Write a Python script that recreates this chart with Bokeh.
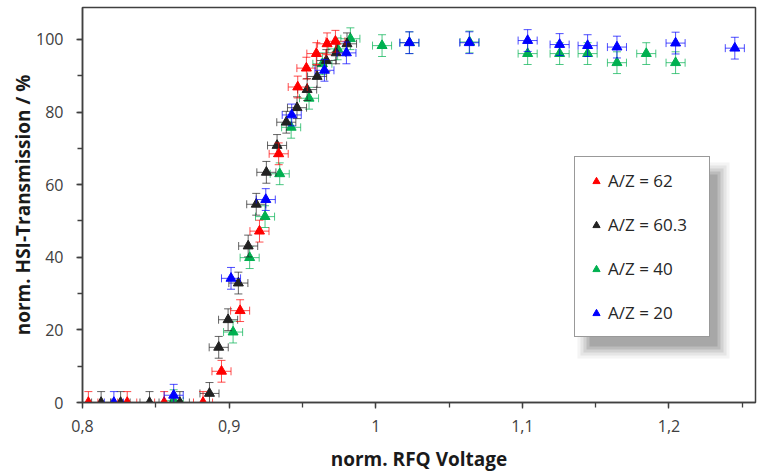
import numpy as np
from bokeh.plotting import figure
from bokeh.models import (Range1d, SingleIntervalTicker, CustomJSTickFormatter,
                          Legend, LegendItem, BoxAnnotation)
from bokeh.embed import file_html
from bokeh.resources import INLINE

# ---------------- data ----------------
labels = ["A/Z = 62", "A/Z = 60.3", "A/Z = 40", "A/Z = 20"]
colors = ["#ff0000", "#222222", "#00b050", "#0000ff"]

x_red = [0.804, 0.8305, 0.8557, 0.8822, 0.8948, 0.9075, 0.9207, 0.9338, 0.9468,
         0.9527, 0.9595, 0.9668, 0.9725]
y_red = [0, 0, 0, 0, 8.6, 25.3, 47.2, 68.5, 86.9, 92.1, 96.1, 98.8, 99.5]

x_black = [0.8127, 0.826, 0.8457, 0.8664, 0.8866, 0.8929, 0.8993, 0.9063, 0.913,
           0.9185, 0.9254, 0.9327, 0.939, 0.9463, 0.9532, 0.96, 0.9663, 0.973, 0.9804]
y_black = [0, 0, 0, 0, 2.5, 15.2, 22.8, 32.9, 43.1, 54.6, 63.4, 70.8, 77.2, 81.2,
           86.2, 89.8, 94.2, 96.3, 98.8]

x_green = [0.8622, 0.9027, 0.914, 0.9245, 0.9345, 0.9423, 0.9545, 0.9636, 0.974,
           0.9827, 1.0043, 1.023, 1.064, 1.1036, 1.1254, 1.1445, 1.1645, 1.1845, 1.2045]
y_green = [0.5, 19.4, 39.9, 51.2, 63.0, 75.8, 83.8, 93.3, 97.4, 100.2, 98.3, 99.1,
           99.3, 96.1, 96.1, 96.1, 93.6, 96.1, 93.6]

x_blue = [0.8214, 0.8622, 0.9013, 0.925, 0.9427, 0.965, 0.98, 1.0229, 1.0638,
          1.1036, 1.1254, 1.1445, 1.1645, 1.2045, 1.2449]
y_blue = [0, 2, 34.2, 55.9, 79.2, 91.5, 96.3, 99.1, 99.1, 99.7, 98.6, 98.3, 97.9,
          99.0, 97.6]

err_y = 3.0      # transmission uncertainty (%)
err_x = 0.0065   # voltage uncertainty

x_start, x_end = 0.8, 1.259
y_start, y_end = 0.0, 108.8

# ---------------- figure ----------------
W, H = 759, 476
ML, MR, MT, MB = 82, 4, 7, 74
p = figure(width=W, height=H, output_backend="svg", toolbar_location=None,
           x_range=Range1d(x_start, x_end), y_range=Range1d(y_start, y_end),
           min_border_left=ML, min_border_right=MR, min_border_top=MT,
           min_border_bottom=MB)
p.grid.visible = False
p.outline_line_color = "#404040"
p.outline_line_width = 1.5
p.background_fill_color = "white"
p.border_fill_color = "white"

FONT = "Open Sans"
ax_col = "#404040"

xa = p.xaxis[0]
xa.ticker = SingleIntervalTicker(interval=0.1, num_minor_ticks=2)
xa.formatter = CustomJSTickFormatter(
    code="const v = Math.round(tick*10)/10; return v.toString().replace('.', ',');")
ya = p.yaxis[0]
ya.ticker = SingleIntervalTicker(interval=20, num_minor_ticks=2)

for ax in (xa, ya):
    ax.axis_line_color = ax_col
    ax.axis_line_width = 1.5
    ax.major_tick_line_color = ax_col
    ax.minor_tick_line_color = ax_col
    ax.major_tick_line_width = 1.3
    ax.minor_tick_line_width = 1.3
    ax.major_tick_in = 0
    ax.major_tick_out = 6
    ax.minor_tick_in = 0
    ax.minor_tick_out = 5
    ax.major_label_text_font = FONT
    ax.major_label_text_font_size = "16px"
    ax.major_label_text_color = "#404040"
    ax.axis_label_text_font = FONT
    ax.axis_label_text_font_size = "19px"
    ax.axis_label_text_font_style = "bold"
    ax.axis_label_text_color = "#1a1a1a"

xa.axis_label = "norm. RFQ Voltage"
ya.axis_label = "norm. HSI-Transmission / %"
xa.major_label_standoff = 11
ya.major_label_standoff = 13
xa.axis_label_standoff = 11
ya.axis_label_standoff = -3

# ---------------- series ----------------
series = [(x_red, y_red), (x_black, y_black), (x_green, y_green), (x_blue, y_blue)]
order = [2, 1, 0, 3]
marker_renderers = {}
for i in order:
    xs = np.array(series[i][0], dtype=float)
    ys = np.array(series[i][1], dtype=float)
    c = colors[i]
    p.segment(x0=xs, y0=ys - err_y, x1=xs, y1=ys + err_y, line_color=c,
              line_width=1, line_alpha=0.7)
    p.segment(x0=xs - err_x, y0=ys, x1=xs + err_x, y1=ys, line_color=c,
              line_width=1, line_alpha=0.7)
    p.scatter(np.concatenate([xs, xs]), np.concatenate([ys - err_y, ys + err_y]),
              marker="dash", size=8, line_color=c, line_width=1, line_alpha=0.7)
    p.scatter(np.concatenate([xs - err_x, xs + err_x]), np.concatenate([ys, ys]),
              marker="dash", angle=np.pi / 2, size=8, line_color=c, line_width=1,
              line_alpha=0.7)
    r = p.scatter(xs, ys, marker="triangle", size=10, fill_color=c, line_color=c)
    marker_renderers[i] = r

# ---------------- legend with soft shadow ----------------
frame_w = W - ML - MR
frame_h = H - MT - MB


def px2x(px):
    return x_start + (px - ML) / frame_w * (x_end - x_start)


def py2y(py):
    return y_start + (MT + frame_h - py) / frame_h * (y_end - y_start)


for grow, alpha in [(9, 0.07), (6, 0.1), (3, 0.14), (0, 0.2), (-3, 0.25)]:
    p.add_layout(BoxAnnotation(left=px2x(586 - grow), right=px2x(720 + grow),
                               top=py2y(171 - grow), bottom=py2y(349 + grow),
                               fill_color="#666666", fill_alpha=alpha,
                               line_color=None))

leg_left, leg_bottom = 574, 337
legend = Legend(items=[LegendItem(label=labels[i], renderers=[marker_renderers[i]])
                       for i in range(4)],
                location=(leg_left - ML, MT + frame_h - leg_bottom),
                margin=0, padding=12, spacing=21,
                label_height=20, glyph_height=20, glyph_width=18,
                label_standoff=3, label_width=89,
                label_text_font=FONT, label_text_font_size="17px",
                label_text_color="#262626",
                border_line_color="#333333", border_line_width=1.5,
                background_fill_color="white", background_fill_alpha=1.0)
p.add_layout(legend)

open("out.html", "w").write(file_html(p, INLINE))
